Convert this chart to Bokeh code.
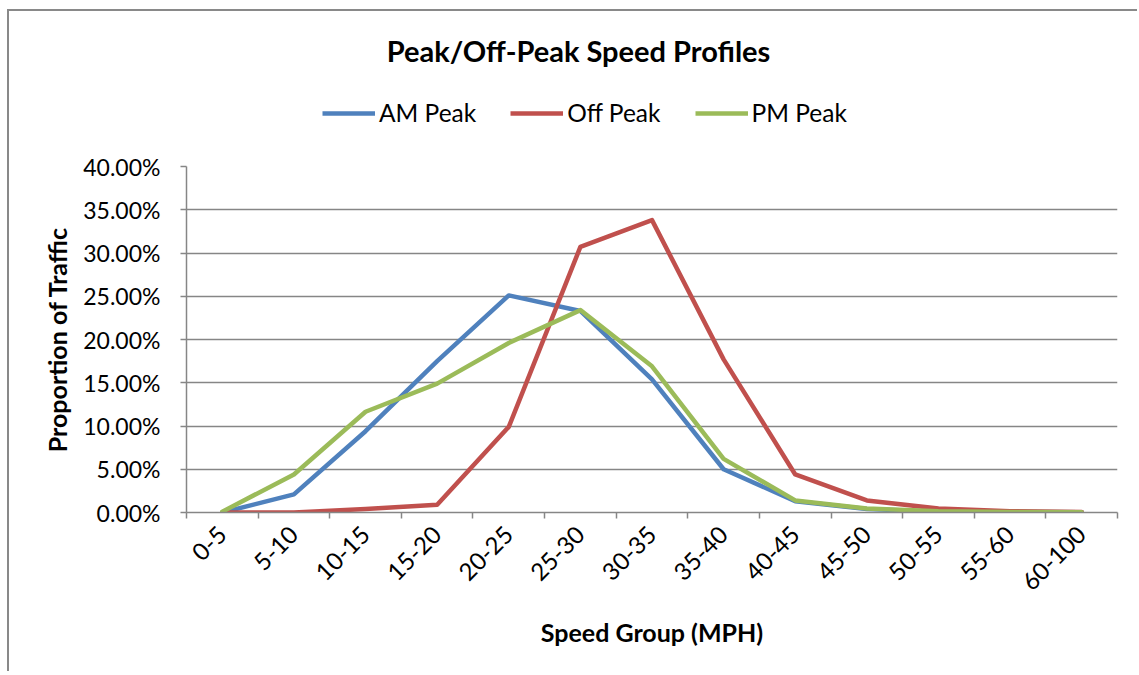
import math
from bokeh.plotting import figure
from bokeh.layouts import column
from bokeh.models import (Range1d, FixedTicker, NumeralTickFormatter, Legend, LegendItem, Label)
from bokeh.embed import file_html
from bokeh.resources import INLINE

categories = ["0-5", "5-10", "10-15", "15-20", "20-25", "25-30", "30-35",
              "35-40", "40-45", "45-50", "50-55", "55-60", "60-100"]
am_peak = [0.000, 0.021, 0.094, 0.175, 0.251, 0.233, 0.154, 0.050, 0.013, 0.004, 0.001, 0.0005, 0.0002]
off_peak = [0.000, 0.000, 0.004, 0.009, 0.099, 0.307, 0.338, 0.177, 0.044, 0.014, 0.0045, 0.0015, 0.0005]
pm_peak = [0.001, 0.044, 0.1165, 0.149, 0.196, 0.234, 0.169, 0.062, 0.014, 0.0045, 0.0015, 0.0005, 0.0002]
y_ticks = [0.0, 0.05, 0.10, 0.15, 0.20, 0.25, 0.30, 0.35, 0.40]
series_names = ["AM Peak", "Off Peak", "PM Peak"]
series_colors = ["#4F81BD", "#C0504D", "#9BBB59"]

FONT = "Lato"
GRID = "#868686"
BORDER = "#898989"

# content origin on the page (after margin + 2px border)
OX, OY = 9, 11
W = 1128
TOP_H = 135
MAIN_H = 525
# main frame in page pixels
F_LEFT, F_RIGHT, F_TOP, F_BOTTOM = 186, 1117, 166, 512
main_top_off = OY + TOP_H  # page y of main figure's top

# ---------------- header figure: title + legend ----------------
# (the column aligns this figure's frame with the main frame: left edge at F_LEFT)
top = figure(width=W, height=TOP_H, output_backend="svg", toolbar_location=None,
             x_range=Range1d(0, 1), y_range=Range1d(0, 1),
             x_axis_location=None, y_axis_location=None, min_border=0)
top.outline_line_color = None
top.grid.visible = False
top.background_fill_color = "white"
top.border_fill_color = "white"

title = Label(x=578 - F_LEFT, y=main_top_off - 50, x_units="screen", y_units="screen",
              text="Peak/Off-Peak Speed Profiles", text_font=FONT, text_font_style="bold",
              text_font_size="29px", text_align="center", text_baseline="middle",
              text_color="black")
top.add_layout(title)

# legend-only renderers: their points lie outside the header's ranges
dummy = [top.line([5, 6], [5, 6], line_color=c, line_width=4.5) for c in series_colors]
legend = Legend(items=[LegendItem(label=n, renderers=[r]) for n, r in zip(series_names, dummy)],
                orientation="horizontal", location=(322 - F_LEFT, main_top_off - 113 - 14),
                padding=0, margin=0, spacing=34, glyph_width=53, glyph_height=28,
                label_standoff=4, label_text_font=FONT, label_text_font_size="24.5px",
                label_text_color="black", background_fill_alpha=0, border_line_alpha=0)
top.add_layout(legend, "center")

# ---------------- main chart ----------------
p = figure(width=W, height=MAIN_H, output_backend="svg", toolbar_location=None,
           x_range=Range1d(0, len(categories)), y_range=Range1d(0, 0.4),
           min_border_left=F_LEFT - OX, min_border_right=W - (F_RIGHT - OX),
           min_border_top=F_TOP - main_top_off, min_border_bottom=MAIN_H - (F_BOTTOM - main_top_off))
p.outline_line_color = None
p.background_fill_color = "white"
p.border_fill_color = "white"

xs = [i + 0.5 for i in range(len(categories))]
for vals, c in zip([am_peak, off_peak, pm_peak], series_colors):
    p.line(xs, vals, line_color=c, line_width=4.5, line_join="round", line_cap="round")

# x axis
p.xaxis.ticker = FixedTicker(ticks=xs, minor_ticks=list(range(len(categories) + 1)))
p.xaxis.major_label_overrides = {x: c for x, c in zip(xs, categories)}
p.xaxis.major_label_orientation = math.pi / 4
p.xaxis.major_tick_out = 0
p.xaxis.major_tick_in = 0
p.xaxis.minor_tick_out = 6
p.xaxis.minor_tick_in = 0
p.xaxis.minor_tick_line_color = GRID
p.xaxis.minor_tick_line_width = 1.5
p.xaxis.axis_line_color = GRID
p.xaxis.axis_line_width = 1.5
p.xaxis.major_label_text_font = FONT
p.xaxis.major_label_text_font_size = "24px"
p.xaxis.major_label_text_color = "black"
p.xaxis.major_label_standoff = 12
p.xaxis.axis_label = "Speed Group (MPH)"
p.xaxis.axis_label_text_font = FONT
p.xaxis.axis_label_text_font_style = "bold"
p.xaxis.axis_label_text_font_size = "25px"
p.xaxis.axis_label_text_color = "black"
p.xaxis.axis_label_standoff = 16

# y axis
p.yaxis.ticker = FixedTicker(ticks=y_ticks, minor_ticks=[])
p.yaxis.formatter = NumeralTickFormatter(format="0.00%")
p.yaxis.major_tick_out = 6
p.yaxis.major_tick_in = 0
p.yaxis.major_tick_line_color = GRID
p.yaxis.major_tick_line_width = 1.5
p.yaxis.axis_line_color = GRID
p.yaxis.axis_line_width = 1.5
p.yaxis.major_label_text_font = FONT
p.yaxis.major_label_text_font_size = "23px"
p.yaxis.major_label_text_color = "black"
p.yaxis.major_label_standoff = 20
p.yaxis.axis_label = "Proportion of Traffic"
p.yaxis.axis_label_text_font = FONT
p.yaxis.axis_label_text_font_style = "bold"
p.yaxis.axis_label_text_font_size = "25px"
p.yaxis.axis_label_text_color = "black"
p.yaxis.axis_label_standoff = 8

p.xgrid.grid_line_color = None
p.ygrid.ticker = FixedTicker(ticks=y_ticks)
p.ygrid.grid_line_color = GRID
p.ygrid.grid_line_width = 1.5

layout = column(top, p, spacing=0, margin=(9, 0, 0, 7),
                styles={"border-top": f"2px solid {BORDER}", "border-left": f"2px solid {BORDER}"})

open("out.html", "w").write(file_html(layout, INLINE))
